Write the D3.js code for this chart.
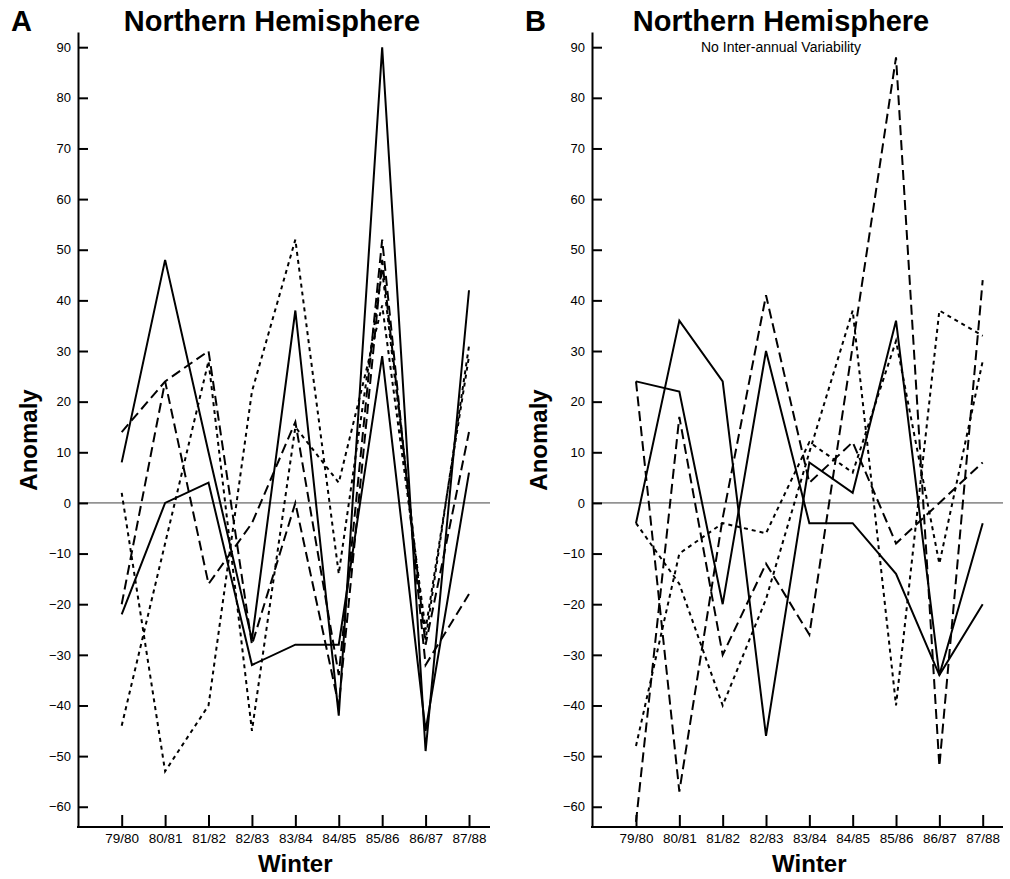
<!DOCTYPE html>
<html>
<head>
<meta charset="utf-8">
<script src="https://cdn.jsdelivr.net/npm/d3@7"></script>
<style>
body { margin: 0; background: #fff; }
text { font-family: "Liberation Sans", Arial, Helvetica, sans-serif; fill: #000; }
</style>
</head>
<body>
<script>
// winters on the x axis
var winters = ["79/80", "80/81", "81/82", "82/83", "83/84", "84/85", "85/86", "86/87", "87/88"];
var yTicks = [90, 80, 70, 60, 50, 40, 30, 20, 10, 0, -10, -20, -30, -40, -50, -60];

// Panel A - Northern Hemisphere
var aSolid1 = [8, 48, 10, -27, 38, -42, 90, -49, 42];
var aSolid2 = [-22, 0, 4, -32, -28, -28, 29, -45, 6];
var aLong1  = [14, 24, 30, -28, 0, -40, 48, -28, 14];
var aLong2  = [-20, 24, -16, -4, 16, -34, 52, -32, -18];
var aShort1 = [2, -53, -40, 22, 52, -14, 46, -27, 31];
var aShort2 = [-44, -8, 28, -45, 15, 4, 39, -25, 29];

// Panel B - Northern Hemisphere, no inter-annual variability
var bSolid1 = [24, 22, -20, 30, -4, -4, -14, -34, -20];
var bSolid2 = [-4, 36, 24, -46, 8, 2, 36, -34, -4];
var bLong1  = [24, -57, -3, 41, 4, 12, -8, 0, 8];
var bLong2  = [-63, 17, -30, -12, -26, 31, 88, -52, 44];
var bShort1 = [-4, -16, -40, -19, 10, 38, -40, 38, 33];
var bShort2 = [-48, -10, -4, -6, 12, 6, 32, -12, 28];

var dash = {
    solid: null,
    long: "10,5",
    short: "4,4"
};

var svg = d3.select("body").append("svg")
    .attr("width", 1010)
    .attr("height", 879);

var y = d3.scaleLinear().domain([-64, 93]).range([827, 32]);

function drawPanel(p) {
    var x = d3.scalePoint().domain(winters).range([p.x0, p.x1]);
    var g = svg.append("g");

    // zero reference line
    g.append("line")
        .attr("x1", p.axisX)
        .attr("x2", p.axisEnd)
        .attr("y1", y(0))
        .attr("y2", y(0))
        .attr("stroke", "#444")
        .attr("stroke-width", 1);

    var line = d3.line()
        .x(function(d, i) { return x(winters[i]); })
        .y(function(d) { return y(d); });

    p.series.forEach(function(s) {
        g.append("path")
            .datum(s.values)
            .attr("d", line)
            .attr("fill", "none")
            .attr("stroke", "#000")
            .attr("stroke-width", 2)
            .attr("stroke-dasharray", dash[s.style]);
    });

    // y axis
    var ya = g.append("g")
        .attr("transform", "translate(" + p.axisX + ",0)")
        .call(d3.axisLeft(y).tickValues(yTicks).tickSize(-10).tickSizeOuter(0).tickPadding(7));
    ya.select(".domain").attr("stroke-width", 2);
    ya.selectAll(".tick line").attr("stroke-width", 2);
    ya.selectAll(".tick text").style("font-size", "13px");

    // x axis
    var xa = g.append("g")
        .attr("transform", "translate(0,827)")
        .call(d3.axisBottom(x).tickSize(-12).tickSizeOuter(0).tickPadding(6));
    xa.select(".domain").remove();
    xa.selectAll(".tick line").attr("stroke-width", 2);
    xa.selectAll(".tick text").style("font-size", "13.5px");

    g.append("line")
        .attr("x1", p.axisX - 1)
        .attr("x2", p.axisEnd)
        .attr("y1", 827)
        .attr("y2", 827)
        .attr("stroke", "#000")
        .attr("stroke-width", 2);

    // titles and labels
    g.append("text")
        .attr("x", p.letterX)
        .attr("y", 31)
        .style("font-size", "29px")
        .style("font-weight", "bold")
        .text(p.letter);

    g.append("text")
        .attr("x", p.titleX)
        .attr("y", 31)
        .attr("text-anchor", "middle")
        .style("font-size", "29px")
        .style("font-weight", "bold")
        .text("Northern Hemisphere");

    if (p.subtitle) {
        g.append("text")
            .attr("x", p.titleX)
            .attr("y", 52)
            .attr("text-anchor", "middle")
            .style("font-size", "14px")
            .text(p.subtitle);
    }

    g.append("text")
        .attr("transform", "translate(" + p.yLabelX + ",440) rotate(-90)")
        .attr("text-anchor", "middle")
        .style("font-size", "24px")
        .style("font-weight", "bold")
        .text("Anomaly");

    g.append("text")
        .attr("x", (p.x0 + p.x1) / 2)
        .attr("y", 872)
        .attr("text-anchor", "middle")
        .style("font-size", "24px")
        .style("font-weight", "bold")
        .text("Winter");
}

drawPanel({
    letter: "A", letterX: 11, titleX: 272, subtitle: null,
    axisX: 78, axisEnd: 490, x0: 121.7, x1: 469, yLabelX: 37,
    series: [
        {style: "solid", values: aSolid1},
        {style: "solid", values: aSolid2},
        {style: "long", values: aLong1},
        {style: "long", values: aLong2},
        {style: "short", values: aShort1},
        {style: "short", values: aShort2}
    ]
});

drawPanel({
    letter: "B", letterX: 525, titleX: 781, subtitle: "No Inter-annual Variability",
    axisX: 592, axisEnd: 1003, x0: 636, x1: 982.7, yLabelX: 547,
    series: [
        {style: "solid", values: bSolid1},
        {style: "solid", values: bSolid2},
        {style: "long", values: bLong1},
        {style: "long", values: bLong2},
        {style: "short", values: bShort1},
        {style: "short", values: bShort2}
    ]
});
</script>
</body>
</html>
